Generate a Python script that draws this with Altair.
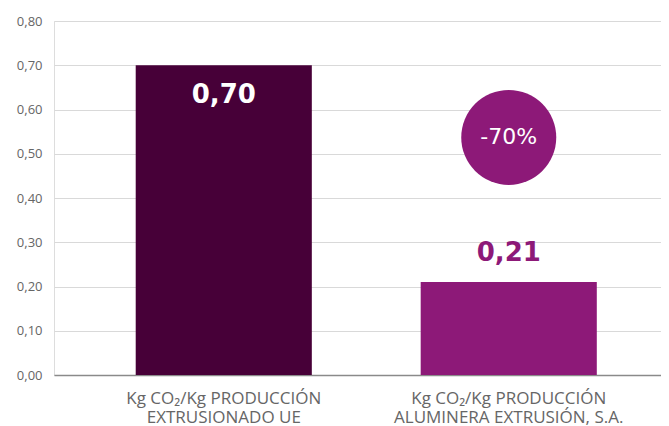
import altair as alt
import pandas as pd

categories = ["Kg CO₂/Kg PRODUCCIÓN\nEXTRUSIONADO UE", "Kg CO₂/Kg PRODUCCIÓN\nALUMINERA EXTRUSIÓN, S.A."]
values = [0.70, 0.21]
value_labels = ["0,70", "0,21"]
badge_text = ["-70%"]
badge_value = [0.537]
bar_colors = ["#470038", "#8d1978"]

df = pd.DataFrame({"cat": categories, "value": values, "label": value_labels})
badge = pd.DataFrame({"cat": [categories[1]], "value": badge_value, "text": badge_text})

x_enc = alt.X(
    "cat:N",
    sort=categories,
    title=None,
    scale=alt.Scale(paddingInner=0.382, paddingOuter=0.256, align=0.56),
    axis=alt.Axis(
        labelExpr="split(datum.label, '\\n')",
        labelAngle=0,
        labelFont="Open Sans",
        labelFontSize=17,
        labelColor="#666666",
        labelLineHeight=19.5,
        labelPadding=15,
        labelLimit=400,
        ticks=False,
        domainColor="#8a8a8a",
        domainWidth=1.5,
        grid=False,
    ),
)

y_scale = alt.Scale(domain=[0, 0.8])

bars = alt.Chart(df).mark_bar().encode(
    x=x_enc,
    y=alt.Y(
        "value:Q",
        scale=y_scale,
        title=None,
        axis=alt.Axis(
            values=[0, 0.1, 0.2, 0.3, 0.4, 0.5, 0.6, 0.7, 0.8],
            labelExpr="replace(format(datum.value, '.2f'), '.', ',')",
            labelFont="Open Sans",
            labelFontSize=13,
            labelColor="#666666",
            labelPadding=12,
            ticks=False,
            domain=False,
            gridColor="#d9d9d9",
            gridWidth=1,
        ),
    ),
    color=alt.Color("cat:N", scale=alt.Scale(domain=categories, range=bar_colors), legend=None),
)

label_in = alt.Chart(df).transform_filter(alt.datum.cat == categories[0]).mark_text(
    font="DejaVu Sans", fontWeight="bold", fontSize=26, color="white", baseline="middle", dy=29.5
).encode(x=alt.X("cat:N", sort=categories), y=alt.Y("value:Q", scale=y_scale), text="label:N")

label_out = alt.Chart(df).transform_filter(alt.datum.cat == categories[1]).mark_text(
    font="DejaVu Sans", fontWeight="bold", fontSize=26, color="#8d1978", baseline="middle", dy=-29
).encode(x=alt.X("cat:N", sort=categories), y=alt.Y("value:Q", scale=y_scale), text="label:N")

circle = alt.Chart(badge).mark_point(
    shape="circle", filled=True, size=9025, color="#8d1978", opacity=1
).encode(x=alt.X("cat:N", sort=categories), y=alt.Y("value:Q", scale=y_scale))

circle_text = alt.Chart(badge).mark_text(
    font="DejaVu Sans", fontSize=22, color="white", baseline="middle"
).encode(x=alt.X("cat:N", sort=categories), y=alt.Y("value:Q", scale=y_scale), text="text:N")

chart = (
    alt.layer(bars, label_in, label_out, circle, circle_text)
    .properties(width=607, height=354, padding={"left": 8, "top": 7, "right": 0, "bottom": 0})
    .configure_view(stroke=None)
    .configure(background="white")
)

chart.save("out.html", embed_options={"renderer": "svg", "actions": False})
